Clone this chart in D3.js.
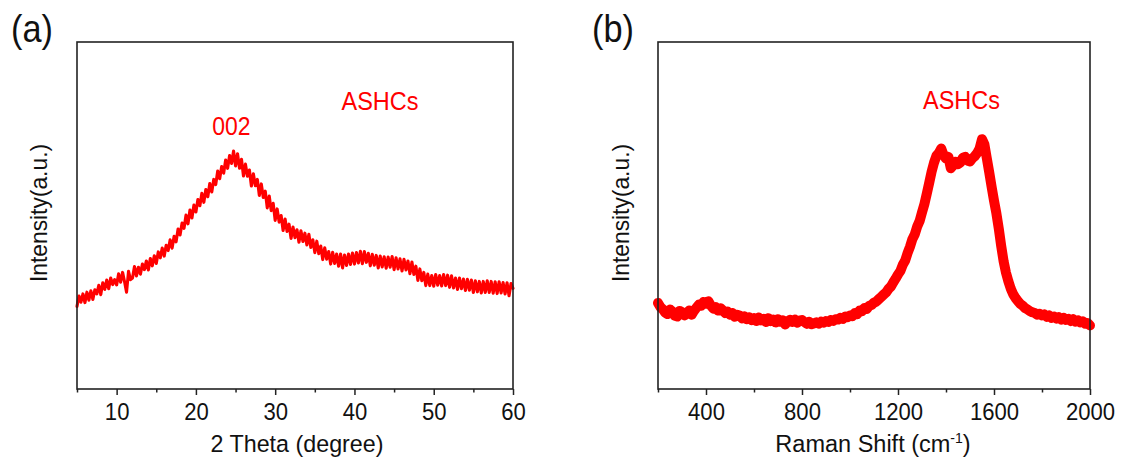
<!DOCTYPE html>
<html>
<head>
<meta charset="utf-8">
<script src="https://cdn.jsdelivr.net/npm/d3@7"></script>
<style>
  html, body { margin: 0; padding: 0; background: #fff; }
  svg { display: block; }
  text { font-family: "Liberation Sans", Arial, sans-serif; }
</style>
</head>
<body>
<svg id="chart" width="1127" height="470"></svg>
<script>
// ---------------- DATA ----------------
// (a) XRD pattern, 2θ from 5° to 60°, sampled every 0.25°
const xrdStart = 5;
const xrdStep = 0.25;
const xrdIntensity = [
  23.8, 26.8, 25.0, 27.4,  24.9, 27.9, 25.6, 28.3,  25.8, 28.6, 27.4, 29.9,
  27.2, 30.6, 28.7, 31.4,  28.9, 32.0, 30.1, 31.5,  30.0, 33.2, 30.8, 33.6,
  30.9, 27.9, 33.9, 31.5,  32.0, 35.3, 32.6, 35.1,  33.1, 36.0, 34.4, 36.9,
  34.3, 37.6, 35.5, 38.4,  36.2, 39.5, 37.8, 40.6,  38.3, 41.4, 39.9, 43.0,
  40.6, 44.0, 42.4, 46.1,  44.4, 47.8, 46.3, 50.1,  47.6, 51.6, 49.3, 53.0,
  51.0, 54.6, 52.8, 56.4,  53.8, 57.5, 55.4, 59.2,  56.8, 60.4, 58.9, 62.8,
  60.6, 64.1, 62.2, 66.0,  63.6, 67.3, 65.0, 68.6,  64.3, 67.8, 63.6, 66.2,
  61.4, 64.8, 61.3, 63.1,  58.5, 62.0, 58.6, 60.4,  55.8, 59.1, 55.2, 57.0,
  52.2, 55.6, 51.4, 53.5,  48.6, 51.9, 48.1, 50.0,  45.7, 49.0, 45.4, 47.5,
  43.4, 46.7, 43.6, 45.9,  42.3, 45.6, 42.5, 44.9,  41.5, 44.6, 40.8, 43.0,
  39.3, 42.6, 39.0, 41.2,  37.3, 40.7, 37.4, 39.6,  36.0, 39.4, 36.2, 38.9,
  35.4, 38.9, 34.9, 38.6,  35.6, 38.9, 35.9, 39.2,  36.0, 39.3, 36.3, 39.7,
  36.1, 39.6, 36.5, 39.1,  35.5, 38.8, 35.7, 38.5,  34.9, 38.3, 35.2, 38.1,
  34.8, 38.0, 35.1, 38.2,  34.4, 37.8, 34.6, 37.5,  34.0, 37.4, 34.3, 36.9,
  33.2, 36.6, 33.0, 35.4,  31.3, 34.6, 31.2, 33.6,  29.8, 33.1, 29.8, 32.7,
  29.6, 33.0, 29.9, 32.7,  29.7, 33.0, 29.8, 32.8,  29.3, 32.6, 29.1, 32.0,
  28.7, 32.0, 28.9, 31.7,  28.4, 31.6, 28.5, 31.4,  27.8, 31.2, 28.0, 31.0,
  27.7, 31.0, 27.8, 31.2,  27.8, 31.0, 27.6, 30.9,  27.5, 30.9, 27.7, 30.7,
  27.4, 30.6, 26.9, 30.4,  29.0
];
const xrdMajorTicks = [10, 20, 30, 40, 50, 60];
const xrdMinorTicks = [5, 15, 25, 35, 45, 55];

// (b) Raman spectrum, 200–2000 cm-1, sampled every 10 cm-1
const ramanStart = 200;
const ramanStep = 10;
const ramanIntensity = [
  24.8, 23.6, 23.0, 22.0, 21.6, 22.9, 22.3, 21.1, 20.9, 22.5,
  22.2, 21.2, 21.8, 22.6, 21.4, 22.5, 23.4, 24.3, 24.0, 25.1,
  24.6, 25.3, 24.1, 23.2, 23.6, 22.6, 23.3, 22.7, 21.9, 22.3,
  21.4, 21.9, 20.8, 21.4, 21.2, 20.4, 20.9, 20.1, 20.7, 19.9,
  20.4, 19.6, 20.6, 19.8, 20.2, 19.3, 20.4, 19.6, 20.0, 19.2,
  20.1, 19.4, 19.8, 18.6, 19.5, 19.9, 19.3, 20.0, 19.1, 19.7,
  19.9, 19.3, 18.8, 19.4, 18.7, 18.9, 19.2, 18.8, 19.4, 19.1,
  19.6, 19.3, 19.9, 19.6, 20.1, 20.0, 20.5, 20.2, 20.9, 20.7,
  21.2, 21.0, 21.9, 21.6, 22.6, 22.4, 23.3, 23.1, 24.0, 24.2,
  24.9, 25.2, 25.9, 26.5, 27.2, 27.8, 28.8, 29.5, 30.7, 31.8,
  33.0, 34.0, 35.8, 37.0, 39.2, 41.0, 43.2, 44.6, 46.8, 48.4,
  50.9, 53.3, 56.3, 59.4, 62.6, 65.2, 67.2, 68.0, 69.3, 67.4,
  66.4, 66.9, 63.6, 64.5, 65.5, 64.8, 65.3, 66.6, 66.9, 65.8,
  65.6, 66.5, 67.1, 68.0, 69.3, 72.0, 70.5, 66.5, 62.5, 58.3,
  54.3, 50.6, 46.2, 41.2, 36.8, 33.5, 31.0, 28.9, 27.3, 26.2,
  25.3, 24.5, 24.0, 23.3, 22.9, 22.4, 22.1, 21.9, 21.4, 21.7,
  21.2, 21.5, 20.8, 21.2, 20.5, 20.9, 20.3, 20.7, 20.0, 20.5,
  19.9, 20.2, 19.6, 20.1, 19.4, 19.8, 19.2, 19.5, 18.8, 19.0,
  18.3
];
const ramanMajorTicks = [400, 800, 1200, 1600, 2000];
const ramanMinorTicks = [200, 600, 1000, 1400, 1800];

// ---------------- DRAW ----------------
const svg = d3.select("#chart");
svg.append("rect").attr("width", 1127).attr("height", 470).attr("fill", "#fff");

const plotTop = 42, plotBottom = 389;
const red = "#ff0000";

function condense(sel, f) {
  sel.each(function () {
    const w = this.getComputedTextLength();
    d3.select(this).attr("textLength", w * f).attr("lengthAdjust", "spacingAndGlyphs");
  });
  return sel;
}

function panel(opts) {
  const x = d3.scaleLinear().domain(opts.xDomain).range([opts.left, opts.right]);
  const y = d3.scaleLinear().domain([0, 100]).range([plotBottom, plotTop]);
  const g = svg.append("g");

  // minor ticks
  g.append("g")
    .attr("transform", `translate(0,${plotBottom})`)
    .call(d3.axisBottom(x).tickValues(opts.minor).tickSize(3.5).tickFormat(""))
    .call(ax => ax.select(".domain").remove())
    .call(ax => ax.selectAll("line").attr("stroke", "#222").attr("stroke-width", 1.5));

  // major ticks + labels
  const majorAxis = g.append("g")
    .attr("transform", `translate(0,${plotBottom})`)
    .call(d3.axisBottom(x).tickValues(opts.major).tickSize(6).tickPadding(7.5).tickFormat(d3.format("d")))
    .call(ax => ax.select(".domain").remove())
    .call(ax => ax.selectAll("line").attr("stroke", "#222").attr("stroke-width", 1.5));
  const tl = majorAxis.selectAll("text")
    .attr("fill", "#111")
    .style("font-size", "24px")
    .style("font-family", '"Liberation Sans", Arial, sans-serif');
  condense(tl, 0.92);

  // data line
  const pts = opts.values.map((v, i) => [opts.start + i * opts.step, v]);
  g.append("path")
    .datum(pts)
    .attr("fill", "none")
    .attr("stroke", red)
    .attr("stroke-width", opts.lw)
    .attr("stroke-linejoin", "round")
    .attr("stroke-linecap", "round")
    .attr("d", d3.line().x(d => x(d[0])).y(d => y(d[1])));

  // frame
  g.append("rect")
    .attr("x", opts.left).attr("y", plotTop)
    .attr("width", opts.right - opts.left).attr("height", plotBottom - plotTop)
    .attr("fill", "none").attr("stroke", "#222").attr("stroke-width", 1.6);

  // y label
  condense(g.append("text")
    .attr("transform", `translate(${opts.yLabelX},213) rotate(-90)`)
    .attr("text-anchor", "middle")
    .attr("fill", "#111")
    .style("font-size", "24px")
    .text("Intensity(a.u.)"), 0.95);

  // panel letter
  condense(g.append("text")
    .attr("x", opts.letterX).attr("y", 42)
    .attr("fill", "#111")
    .style("font-size", "39px")
    .text(opts.letter), 0.88);

  return { x, y, g };
}

const pa = panel({
  left: 77, right: 513, xDomain: [5, 60],
  major: xrdMajorTicks, minor: xrdMinorTicks,
  values: xrdIntensity, start: xrdStart, step: xrdStep, lw: 3.1,
  yLabelX: 47, letterX: 11, letter: "(a)"
});
condense(pa.g.append("text")
  .attr("x", (77 + 513) / 2 + 2).attr("y", 452)
  .attr("text-anchor", "middle").attr("fill", "#111")
  .style("font-size", "24.5px")
  .text("2 Theta (degree)"), 0.95);
condense(pa.g.append("text")
  .attr("x", 231.5).attr("y", 135)
  .attr("text-anchor", "middle").attr("fill", red)
  .style("font-size", "25.5px")
  .text("002"), 0.9);
condense(pa.g.append("text")
  .attr("x", 380).attr("y", 110)
  .attr("text-anchor", "middle").attr("fill", red)
  .style("font-size", "25.5px")
  .text("ASHCs"), 0.92);

const pb = panel({
  left: 658, right: 1090, xDomain: [200, 2000],
  major: ramanMajorTicks, minor: ramanMinorTicks,
  values: ramanIntensity, start: ramanStart, step: ramanStep, lw: 10,
  yLabelX: 629, letterX: 592, letter: "(b)"
});
const rt = pb.g.append("text")
  .attr("x", 873).attr("y", 452)
  .attr("text-anchor", "middle").attr("fill", "#111")
  .style("font-size", "23.5px");
rt.append("tspan").text("Raman Shift (cm");
rt.append("tspan").attr("dy", -9).style("font-size", "14px").text("-1");
rt.append("tspan").attr("dy", 9).text(")");
condense(pb.g.append("text")
  .attr("x", 961.5).attr("y", 108.5)
  .attr("text-anchor", "middle").attr("fill", red)
  .style("font-size", "25.5px")
  .text("ASHCs"), 0.92);
</script>
</body>
</html>
